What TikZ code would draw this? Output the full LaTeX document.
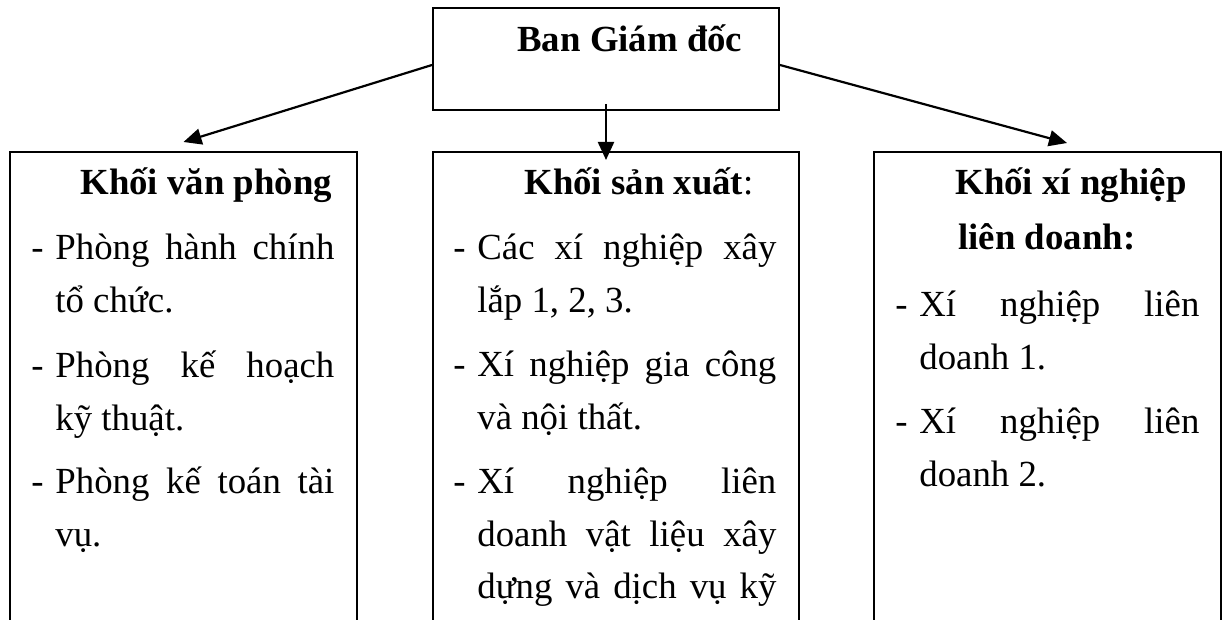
\documentclass[tikz,border=0pt]{standalone}
\usepackage{fontspec}
\setmainfont{Liberation Serif}
\usetikzlibrary{arrows.meta,calc}
\newcommand\fl[2]{\hbox{\makebox[12pt][l]{-}\makebox[#1][s]{#2}}}
\newcommand\jl[2]{\hbox{\kern12pt\makebox[#1][s]{#2}}}
\newcommand\el[1]{\hbox{\kern12pt #1}}
\begin{document}
\begin{tikzpicture}[x=0.5pt,y=-0.5pt,
  box/.style={draw,line width=1pt,inner sep=0pt,anchor=north west},
  conn/.style={line width=1.1pt,-{Triangle[length=9pt,width=8pt]}},
  txt/.style={inner sep=0pt,anchor=base west,font=\fontsize{18.4}{26.5}\selectfont},
  hd/.style={txt,font=\fontsize{18.4}{26.5}\selectfont\bfseries}]
\useasboundingbox (0,0) rectangle (1227,620);
\clip (0,0) rectangle (1227,620);
% boxes
\node[box,minimum width=173pt,minimum height=51pt] (bgd) at (432,7) {};
\node[box,minimum width=173.5pt,minimum height=300pt] (vp) at (9,151) {};
\node[box,minimum width=183pt,minimum height=300pt] (sx) at (432,151) {};
\node[box,minimum width=173.5pt,minimum height=300pt] (xn) at (873,151) {};
% titles
\node[hd] (bgdt) at (517,52) {Ban Giám đốc};
\node[hd] (vph) at (80,195) {Khối văn phòng};
\node[txt] (sxh) at (524,195) {\textbf{Khối sản xuất}:};
\node[hd] (xnh1) at (955,195) {Khối xí nghiệp};
\node[hd] (xnh2) at (958,250) {liên doanh:};
% left box items
\node[txt] (vp1) at (31,260) {\vtop{\fl{139.5pt}{Phòng hành chính}\el{tổ chức.}}};
\node[txt] (vp2) at (31,378) {\vtop{\fl{139.5pt}{Phòng kế hoạch}\el{kỹ thuật.}}};
\node[txt] (vp3) at (31,493) {\vtop{\fl{139.5pt}{Phòng kế toán tài}\el{vụ.}}};
% middle box items
\node[txt] (sx1) at (453,260) {\vtop{\fl{149.5pt}{Các xí nghiệp xây}\el{lắp 1, 2, 3.}}};
\node[txt] (sx2) at (453,377) {\vtop{\fl{149.5pt}{Xí nghiệp gia công}\el{và nội thất.}}};
\node[txt] (sx3) at (453,493) {\vtop{\fl{149.5pt}{Xí nghiệp liên}\jl{149.5pt}{doanh vật liệu xây}\jl{149.5pt}{dựng và dịch vụ kỹ}}};
% right box items
\node[txt] (xn1) at (895,317) {\vtop{\fl{140pt}{Xí nghiệp liên}\el{doanh 1.}}};
\node[txt] (xn2) at (895,433) {\vtop{\fl{140pt}{Xí nghiệp liên}\el{doanh 2.}}};
% connectors
\draw[conn] ([yshift=-3pt]bgd.west) -- ([yshift=4.5pt]vp.north);
\draw[conn] ($(bgd.south)+(0,-7)$) -- ($(bgd.south |- sx.north)+(0,9)$);
\draw[conn] ([yshift=-3pt]bgd.east) -- ([xshift=9.75pt,yshift=4pt]xn.north);
\end{tikzpicture}
\end{document}
